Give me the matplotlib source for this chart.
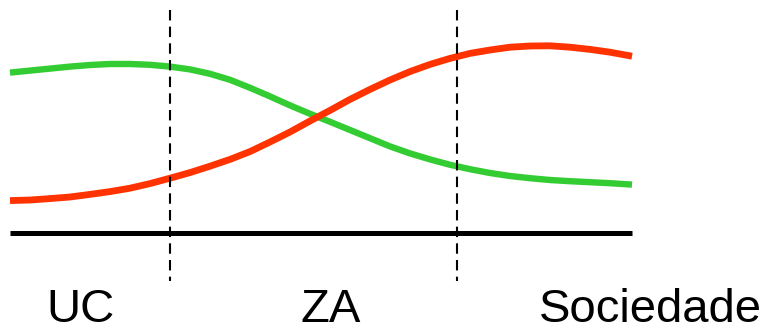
import matplotlib.pyplot as plt

plt.rcParams['font.family'] = ['Liberation Sans', 'DejaVu Sans']

# distance along the gradient (0 = UC edge), one unit per sample step
pos = [0, 1, 2, 3, 4, 5, 6, 7, 8, 9, 10, 11, 12, 13, 14, 15,
       16, 17, 18, 19, 20, 21, 22, 23, 24, 25, 26, 27, 28, 29, 30, 31.1]
green_vals = [80.2, 81.2, 82.2, 83.2, 84.0, 84.5, 84.5, 84.1, 83.2, 81.8, 79.6,
              76.6, 72.6, 68.3, 63.8, 59.6, 55.6, 51.5, 47.4, 43.3, 39.8,
              36.8, 34.1, 31.9, 30.0, 28.5, 27.4, 26.5, 25.9, 25.4, 24.9, 24.2]
red_vals = [16.2, 16.5, 17.2, 18.0, 19.3, 20.7, 22.4, 24.7, 27.4, 30.2, 33.4,
            36.8, 40.7, 45.5, 50.5, 56.0, 61.3, 66.8, 71.8, 76.5, 80.7,
            84.3, 87.3, 89.8, 91.5, 92.9, 93.5, 93.6, 92.9, 91.8, 90.4, 88.4]

boundaries = [8.0, 22.37]
zone_labels = ['UC', 'ZA', 'Sociedade']
label_pos = [3.5, 16.05, 32.0]

fig = plt.figure(figsize=(7.69, 3.27), dpi=100)
ax = fig.add_axes([0, 0, 1, 1])
ax.set_xlim(-0.5, 37.95)
ax.set_ylim(-47, 116.5)
ax.axis('off')

ax.plot(pos, green_vals, color='#33cc33', lw=4.6, solid_capstyle='butt', zorder=2)
ax.plot(pos, red_vals, color='#ff3300', lw=4.9, solid_capstyle='butt', zorder=3)

# baseline
ax.plot([pos[0], pos[-1]], [0, 0], color='black', lw=3.6, solid_capstyle='butt', zorder=4)

# zone boundaries
for b in boundaries:
    ax.plot([b, b], [111.5, -24], color='black', lw=1.5,
            dashes=(5, 3), zorder=5)

for lbl, x in zip(zone_labels, label_pos):
    ax.text(x, -44.5, lbl, ha='center', va='baseline', fontsize=34, color='black')

fig.savefig('out.png', dpi=100, facecolor='white')
